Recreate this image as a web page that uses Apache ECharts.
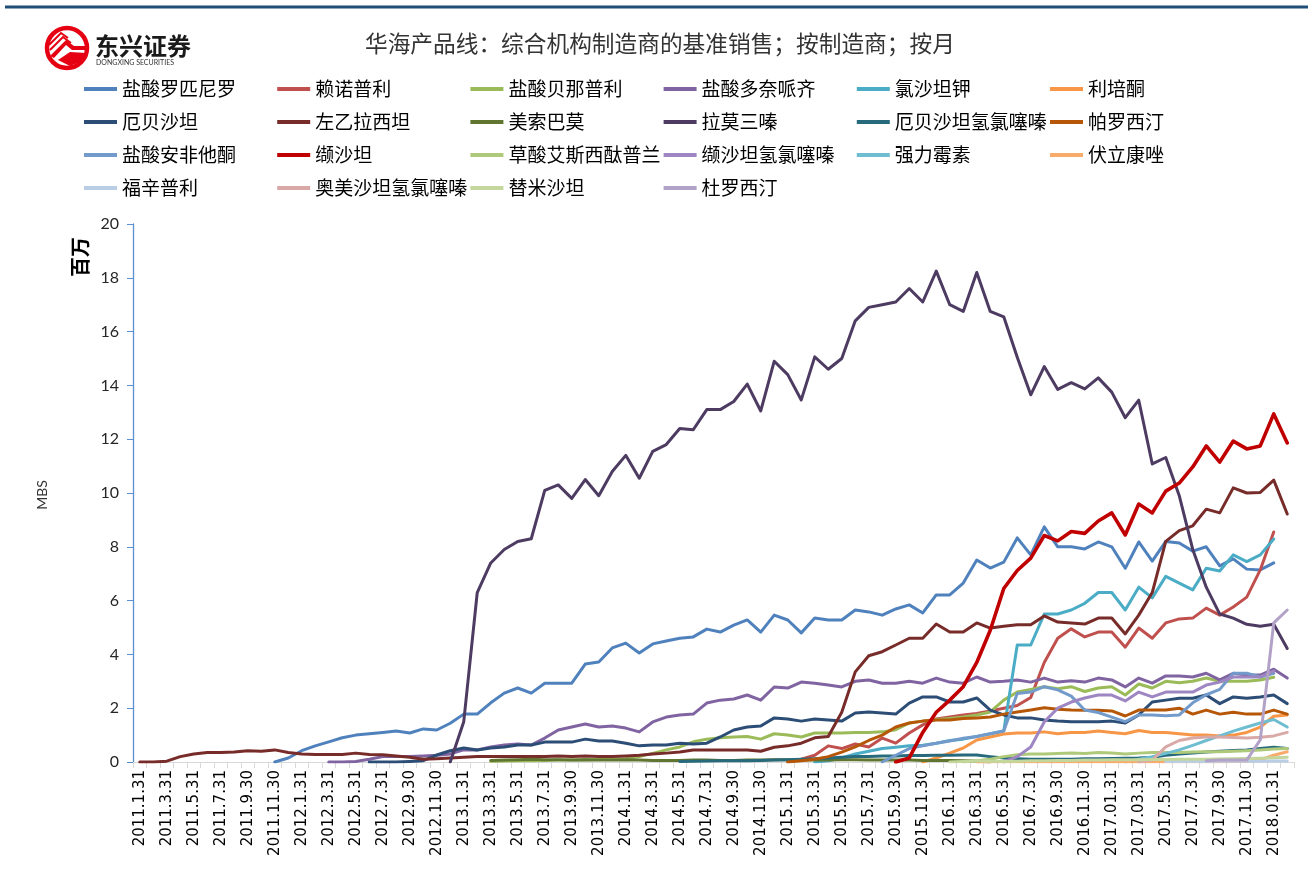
<!DOCTYPE html>
<html>
<head>
<meta charset="utf-8">
<script src="https://cdn.jsdelivr.net/npm/echarts/dist/echarts.min.js"></script>
<style>
html,body{margin:0;padding:0;background:#fff;}
#chart{width:1308px;height:878px;}
</style>
</head>
<body>
<div id="chart"></div>
<script>
const _ = null;

const categories = [
"2011.1.31","2011.2.28","2011.3.31","2011.4.30","2011.5.31","2011.6.30","2011.7.31","2011.8.31","2011.9.30","2011.10.31","2011.11.30","2011.12.31",
"2012.1.31","2012.2.29","2012.3.31","2012.4.30","2012.5.31","2012.6.30","2012.7.31","2012.8.31","2012.9.30","2012.10.31","2012.11.30","2012.12.31",
"2013.1.31","2013.2.28","2013.3.31","2013.4.30","2013.5.31","2013.6.30","2013.7.31","2013.8.31","2013.9.30","2013.10.31","2013.11.30","2013.12.31",
"2014.1.31","2014.2.28","2014.3.31","2014.4.30","2014.5.31","2014.6.30","2014.7.31","2014.8.31","2014.9.30","2014.10.31","2014.11.30","2014.12.31",
"2015.1.31","2015.2.28","2015.3.31","2015.4.30","2015.5.31","2015.6.30","2015.7.31","2015.8.31","2015.9.30","2015.10.31","2015.11.30","2015.12.31",
"2016.1.31","2016.2.29","2016.3.31","2016.4.30","2016.5.31","2016.6.30","2016.7.31","2016.8.31","2016.9.30","2016.10.31","2016.11.30","2016.12.31",
"2017.01.31","2017.02.28","2017.03.31","2017.4.30","2017.5.31","2017.6.30","2017.7.31","2017.8.31","2017.9.30","2017.10.31","2017.11.30","2017.12.31",
"2018.01.31","2018.02.28"
];

const yTicks = [0,2,4,6,8,10,12,14,16,18,20];

const seriesNames = ["盐酸罗匹尼罗","赖诺普利","盐酸贝那普利","盐酸多奈哌齐","氯沙坦钾","利培酮",
"厄贝沙坦","左乙拉西坦","美索巴莫","拉莫三嗪","厄贝沙坦氢氯噻嗪","帕罗西汀",
"盐酸安非他酮","缬沙坦","草酸艾斯西酞普兰","缬沙坦氢氯噻嗪","强力霉素","伏立康唑",
"福辛普利","奥美沙坦氢氯噻嗪","替米沙坦","杜罗西汀"];

const seriesColors = ["#4F81BD","#C0504D","#9BBB59","#8064A2","#4BACC6","#F79646",
"#2C4D75","#772C2A","#5F7530","#4D3B62","#276A7C","#B65708",
"#729ACA","#C00000","#AFC97A","#9E86C3","#6FBDD1","#F9AB6B",
"#B9CDE5","#D9A9A8","#C3D69B","#B3A2C7"];

const ropinirole = [
_,_,_,_,_,_,_,_,_,_,0,0.15,
0.42,0.6,0.75,0.9,1.0,1.05,1.1,1.15,1.08,1.23,1.19,1.44,
1.78,1.78,2.2,2.56,2.75,2.56,2.93,2.93,2.93,3.64,3.72,4.24,
4.42,4.05,4.39,4.5,4.6,4.65,4.94,4.83,5.09,5.28,4.83,5.46,
5.28,4.8,5.35,5.28,5.28,5.65,5.58,5.46,5.69,5.84,5.54,6.21,
6.21,6.65,7.51,7.21,7.43,8.33,7.7,8.74,8.0,8.0,7.92,8.18,
8.0,7.2,8.18,7.47,8.2,8.14,7.84,8.0,7.29,7.55,7.17,7.14,
7.4,_];

const lisinopril = [
_,_,_,_,_,_,_,_,_,_,_,_,
_,_,_,_,_,_,_,_,_,_,_,_,
_,_,_,_,_,_,_,_,_,_,_,_,
_,_,_,_,_,_,_,_,_,_,_,_,
0.02,0.1,0.25,0.6,0.5,0.67,0.56,0.89,0.7,1.08,1.38,1.6,
1.67,1.75,1.8,1.9,2.0,2.1,2.4,3.7,4.6,4.95,4.65,4.83,
4.83,4.27,4.98,4.6,5.17,5.32,5.35,5.72,5.46,5.76,6.13,7.14,
8.55,_];

const benazepril = [
_,_,_,_,_,_,_,_,_,_,_,_,
_,_,_,_,_,_,_,_,_,_,_,_,
_,_,0.03,0.04,0.05,0.05,0.06,0.07,0.07,0.08,0.09,0.1,
0.12,0.2,0.32,0.45,0.56,0.75,0.85,0.9,0.93,0.95,0.85,1.05,
1.0,0.93,1.08,1.08,1.08,1.1,1.1,1.12,1.2,1.45,1.52,1.58,
1.62,1.67,1.75,1.86,2.3,2.6,2.7,2.8,2.72,2.8,2.62,2.75,
2.8,2.49,2.9,2.75,3.0,2.95,3.0,3.12,3.0,3.0,3.0,3.05,
3.15,_];

const donepezil = [
_,_,_,_,_,_,_,_,_,_,_,_,
_,_,0,0,0.02,0.1,0.2,0.2,0.2,0.22,0.25,0.3,
0.45,0.45,0.56,0.63,0.67,0.63,0.89,1.19,1.3,1.41,1.3,1.34,
1.26,1.12,1.49,1.67,1.75,1.78,2.19,2.3,2.34,2.49,2.3,2.79,
2.75,2.97,2.93,2.86,2.79,3.0,3.05,2.93,2.93,3.0,2.93,3.12,
2.97,2.93,3.16,2.97,3.0,3.05,2.97,3.12,2.97,3.02,2.97,3.12,
3.05,2.79,3.12,2.93,3.2,3.2,3.16,3.3,3.05,3.3,3.23,3.23,
3.45,3.12];

const losartan = [
_,_,_,_,_,_,_,_,_,_,_,_,
_,_,_,_,_,_,_,_,_,_,_,_,
_,_,_,_,_,_,_,_,_,_,_,_,
_,_,_,_,_,_,_,_,_,_,_,_,
_,_,0,0.05,0.15,0.3,0.4,0.5,0.55,0.6,0.62,0.7,
0.8,0.85,0.95,1.05,1.15,4.35,4.35,5.5,5.5,5.65,5.9,6.3,
6.3,5.65,6.5,6.1,6.9,6.65,6.4,7.2,7.1,7.7,7.45,7.7,
8.29,_];

const risperidone = [
_,_,_,_,_,_,_,_,_,_,_,_,
_,_,_,_,_,_,_,_,_,_,_,_,
_,_,_,_,_,_,_,_,_,_,_,_,
_,_,_,_,_,_,_,_,_,_,_,_,
_,_,_,_,_,_,_,_,_,_,0,0.15,
0.33,0.52,0.82,0.93,1.04,1.08,1.08,1.12,1.05,1.1,1.1,1.15,
1.1,1.05,1.17,1.1,1.1,1.05,1.0,1.0,0.97,1.0,1.1,1.3,
1.7,1.75];

const irbesartan = [
_,_,_,_,_,_,_,_,_,_,_,_,
_,_,_,_,_,0,0,0,0.02,0.05,0.26,0.42,
0.52,0.45,0.52,0.56,0.63,0.63,0.74,0.74,0.74,0.85,0.78,0.78,
0.7,0.6,0.63,0.63,0.7,0.67,0.7,0.93,1.19,1.3,1.34,1.64,
1.6,1.52,1.6,1.56,1.52,1.82,1.86,1.82,1.78,2.19,2.42,2.42,
2.23,2.23,2.38,1.93,1.75,1.64,1.64,1.56,1.52,1.5,1.5,1.5,
1.52,1.45,1.75,2.23,2.3,2.37,2.37,2.49,2.17,2.42,2.37,2.42,
2.49,2.17];

const levetiracetam = [
0,0,0.03,0.2,0.3,0.35,0.35,0.37,0.42,0.4,0.45,0.35,
0.3,0.28,0.28,0.28,0.33,0.28,0.27,0.22,0.18,0.1,0.12,0.15,
0.18,0.2,0.2,0.2,0.2,0.2,0.2,0.22,0.2,0.22,0.2,0.2,
0.22,0.25,0.3,0.33,0.37,0.45,0.45,0.45,0.45,0.45,0.4,0.55,
0.6,0.7,0.9,0.95,1.85,3.35,3.95,4.1,4.35,4.6,4.6,5.13,
4.83,4.83,5.17,4.98,5.05,5.1,5.1,5.43,5.2,5.17,5.13,5.35,
5.35,4.76,5.46,6.3,8.2,8.6,8.78,9.4,9.26,10.19,10.0,10.02,
10.48,9.22];

const methocarbamol = [
_,_,_,_,_,_,_,_,_,_,_,_,
_,_,_,_,_,_,_,_,_,_,_,_,
_,_,0.06,0.07,0.08,0.1,0.08,0.08,0.07,0.08,0.07,0.07,
0.08,0.07,0.06,0.06,0.06,0.07,0.07,0.06,0.06,0.07,0.07,0.08,
0.08,0.07,0.07,0.07,0.08,0.08,0.07,0.07,0.07,0.07,0.06,0.06,
0.06,0.05,0.04,0,_,_,_,_,_,_,_,_,
_,_,_,_,_,_,_,_,_,_,_,_,
_,_];

const lamotrigine = [
_,_,_,_,_,_,_,_,_,_,_,_,
_,_,_,_,_,_,_,_,_,_,_,0,
1.5,6.3,7.4,7.9,8.2,8.3,10.1,10.3,9.8,10.5,9.9,10.8,
11.4,10.55,11.55,11.8,12.4,12.35,13.1,13.1,13.4,14.05,13.05,14.9,
14.4,13.46,15.06,14.6,15.0,16.4,16.9,17.0,17.1,17.6,17.1,18.25,
17.0,16.75,18.2,16.75,16.55,15.05,13.65,14.7,13.85,14.1,13.87,14.28,
13.75,12.8,13.45,11.08,11.32,9.9,7.9,6.5,5.5,5.35,5.12,5.05,
5.12,4.22];

const irbesartanHctz = [
_,_,_,_,_,_,_,_,_,_,_,_,
_,_,_,_,_,_,_,_,_,_,_,_,
_,_,_,_,_,_,_,_,_,_,_,_,
_,_,_,_,0.02,0.03,0.04,0.05,0.05,0.05,0.06,0.07,
0.08,0.1,0.12,0.15,0.18,0.2,0.2,0.22,0.22,0.24,0.24,0.25,
0.25,0.26,0.26,0.2,0.15,0.12,0.1,0.1,0.1,0.1,0.12,0.12,
0.13,0.14,0.15,0.18,0.25,0.3,0.33,0.37,0.4,0.43,0.45,0.5,
0.55,0.5];

const paroxetine = [
_,_,_,_,_,_,_,_,_,_,_,_,
_,_,_,_,_,_,_,_,_,_,_,_,
_,_,_,_,_,_,_,_,_,_,_,_,
_,_,_,_,_,_,_,_,_,_,_,_,
0,0.05,0.1,0.2,0.37,0.56,0.8,1.0,1.3,1.45,1.52,1.56,
1.56,1.62,1.64,1.67,1.78,1.86,1.93,2.02,1.96,1.93,1.92,1.92,
1.9,1.71,1.93,1.93,1.93,2.0,1.78,1.93,1.78,1.85,1.78,1.78,
1.93,1.78];

const bupropion = [
_,_,_,_,_,_,_,_,_,_,_,_,
_,_,_,_,_,_,_,_,_,_,_,_,
_,_,_,_,_,_,_,_,_,_,_,_,
_,_,_,_,_,_,_,_,_,_,_,_,
_,_,_,_,_,_,_,0,0.25,0.5,0.6,0.7,
0.78,0.88,0.95,1.05,1.15,2.55,2.6,2.8,2.68,2.45,1.93,1.84,
1.67,1.5,1.75,1.75,1.72,1.75,2.2,2.5,2.7,3.3,3.3,3.16,
3.3,_];

const valsartan = [
_,_,_,_,_,_,_,_,_,_,_,_,
_,_,_,_,_,_,_,_,_,_,_,_,
_,_,_,_,_,_,_,_,_,_,_,_,
_,_,_,_,_,_,_,_,_,_,_,_,
_,_,_,_,_,_,_,_,0,0.15,1.1,1.85,
2.3,2.8,3.7,4.9,6.45,7.12,7.58,8.42,8.22,8.57,8.5,8.96,
9.26,8.44,9.59,9.26,10.07,10.37,10.97,11.75,11.15,11.93,11.64,11.75,
12.94,11.86];

const escitalopram = [
_,_,_,_,_,_,_,_,_,_,_,_,
_,_,_,_,_,_,_,_,_,_,_,_,
_,_,_,_,_,_,_,_,_,_,_,_,
_,_,_,_,_,_,_,_,_,_,_,_,
_,_,_,_,_,_,_,_,_,_,_,_,
_,0,0.05,0.1,0.2,0.27,0.3,0.3,0.32,0.33,0.32,0.35,
0.33,0.3,0.33,0.35,0.35,0.35,0.37,0.38,0.38,0.4,0.42,0.45,
0.48,0.5];

const valsartanHctz = [
_,_,_,_,_,_,_,_,_,_,_,_,
_,_,_,_,_,_,_,_,_,_,_,_,
_,_,_,_,_,_,_,_,_,_,_,_,
_,_,_,_,_,_,_,_,_,_,_,_,
_,_,_,_,_,_,_,_,_,_,_,_,
_,_,_,_,0,0.2,0.56,1.49,2.0,2.23,2.38,2.49,
2.49,2.27,2.6,2.42,2.6,2.6,2.6,2.86,2.97,3.16,3.16,3.16,
3.38,_];

const doxycycline = [
_,_,_,_,_,_,_,_,_,_,_,_,
_,_,_,_,_,_,_,_,_,_,_,_,
_,_,_,_,_,_,_,_,_,_,_,_,
_,_,_,_,_,_,_,_,_,_,_,_,
_,_,_,_,_,_,_,_,_,_,_,_,
_,_,_,_,_,_,_,_,_,_,_,_,
_,0,0.1,0.2,0.32,0.45,0.62,0.8,0.97,1.15,1.3,1.45,
1.58,1.3];

const voriconazole = [
_,_,_,_,_,_,_,_,_,_,_,_,
_,_,_,_,_,_,_,_,_,_,_,_,
_,_,_,_,_,_,_,_,_,_,_,_,
_,_,_,_,_,_,_,_,_,_,_,_,
_,_,_,_,_,_,_,_,_,_,_,_,
_,_,0,0.01,0.01,0.01,0.01,0.01,0.01,0.01,0.01,0.01,
0.01,0.01,0.01,0.01,0.01,0.01,0.01,0.01,0.01,0.02,0.02,0.08,
0.25,0.38];

const fosinopril = [
_,_,_,_,_,_,_,_,_,_,_,_,
_,_,_,_,_,_,_,_,_,_,_,_,
_,_,_,_,_,_,_,_,_,_,_,_,
_,_,_,_,_,_,_,_,_,_,_,_,
_,_,_,_,_,_,_,_,_,_,_,_,
_,_,_,_,_,_,_,_,_,_,_,_,
_,_,_,_,0.02,0.02,0.02,0.02,0.03,0.03,0.03,0.03,
0.04,0.04];

const olmesartanHctz = [
_,_,_,_,_,_,_,_,_,_,_,_,
_,_,_,_,_,_,_,_,_,_,_,_,
_,_,_,_,_,_,_,_,_,_,_,_,
_,_,_,_,_,_,_,_,_,_,_,_,
_,_,_,_,_,_,_,_,_,_,_,_,
_,_,_,_,_,_,_,_,_,_,_,_,
_,_,0,0.07,0.56,0.8,0.89,0.93,0.93,0.91,0.89,0.92,
0.97,1.1];

const telmisartan = [
_,_,_,_,_,_,_,_,_,_,_,_,
_,_,_,_,_,_,_,_,_,_,_,_,
_,_,_,_,_,_,_,_,_,_,_,_,
_,_,_,_,_,_,_,_,_,_,_,_,
_,_,_,_,_,_,_,_,_,_,_,_,
0,0.02,0.05,0.03,0.02,0.03,0.05,0.05,0.06,0.06,0.07,0.07,
0.08,0.08,0.08,0.09,0.09,0.1,0.1,0.1,0.11,0.12,0.13,0.14,
0.16,0.18];

const duloxetine = [
_,_,_,_,_,_,_,_,_,_,_,_,
_,_,_,_,_,_,_,_,_,_,_,_,
_,_,_,_,_,_,_,_,_,_,_,_,
_,_,_,_,_,_,_,_,_,_,_,_,
_,_,_,_,_,_,_,_,_,_,_,_,
_,_,_,_,_,_,_,_,_,_,_,_,
_,_,_,_,_,_,_,0.05,0.07,0.07,0.07,0.82,
5.17,5.65];

const seriesData = [ropinirole, lisinopril, benazepril, donepezil, losartan, risperidone,
irbesartan, levetiracetam, methocarbamol, lamotrigine, irbesartanHctz, paroxetine,
bupropion, valsartan, escitalopram, valsartanHctz, doxycycline, voriconazole,
fosinopril, olmesartanHctz, telmisartan, duloxetine];

const chart = echarts.init(document.getElementById('chart'), null, {renderer: 'canvas'});

const cjk = '"Noto Sans CJK SC", "Noto Sans", sans-serif';

const option = {
  animation: false,
  backgroundColor: '#ffffff',
  title: {
    text: '华海产品线：综合机构制造商的基准销售；按制造商；按月',
    left: 365, top: 32, padding: 0,
    textStyle: {fontSize: 22.7, fontWeight: 'normal', color: '#333333', fontFamily: cjk}
  },
  legend: {
    data: seriesNames,
    left: 84, top: 74, width: 1175, padding: 0,
    icon: 'rect', itemWidth: 33, itemHeight: 4, itemGap: 3.2,
    selectedMode: false,
    textStyle: {fontSize: 19, color: '#000000', fontFamily: cjk, width: 152, lineHeight: 29.8, overflow: 'none'}
  },
  grid: {left: 133, right: 14, top: 224, bottom: 116, containLabel: false},
  xAxis: {
    type: 'category', data: categories, boundaryGap: true,
    axisLine: {show: true, lineStyle: {color: '#D9D9D9', width: 1}},
    axisTick: {show: true, interval: 0, length: 6, lineStyle: {color: '#D9D9D9'}},
    axisLabel: {interval: 1, rotate: 90, fontSize: 15, color: '#000000', fontFamily: '"DejaVu Sans", sans-serif', margin: 8},
    splitLine: {show: false}
  },
  yAxis: {
    type: 'value', min: yTicks[0], max: yTicks[yTicks.length - 1], interval: 2,
    axisLine: {show: true, lineStyle: {color: '#5B8FCF', width: 1.3}},
    axisTick: {show: true, length: 6, lineStyle: {color: '#5B8FCF'}},
    axisLabel: {fontSize: 16, color: '#262626', fontFamily: 'Lato, sans-serif', margin: 14},
    splitLine: {show: false}
  },
  graphic: [
    {type: 'rect', shape: {x: 5, y: 5.5, width: 1303, height: 3}, style: {fill: '#1F4E79'}, silent: true},
    {type: 'circle', shape: {cx: 67, cy: 48, r: 20}, style: {fill: '#ffffff', stroke: '#E50012', lineWidth: 4.5}, silent: true},
    {type: 'polygon', shape: {points: [[50,56],[66,40],[74,46],[86,46],[86,50],[72,50],[66,45],[54,58]]}, style: {fill: '#E50012'}, silent: true},
    {type: 'polyline', shape: {points: [[50,50],[63,37],[71,43]]}, style: {stroke: '#E50012', lineWidth: 2, fill: null}, silent: true},
    {type: 'polyline', shape: {points: [[49,45],[61,33],[68,38]]}, style: {stroke: '#E50012', lineWidth: 2, fill: null}, silent: true},
    {type: 'polygon', shape: {points: [[58,60],[70,52],[86,53],[80,62],[70,66]]}, style: {fill: '#E50012'}, silent: true},
    {type: 'text', x: 95, y: 46, style: {text: '东兴证券', fontSize: 24, fontWeight: 'bold', fill: '#1a1a1a', fontFamily: cjk, verticalAlign: 'middle'}, silent: true},
    {type: 'text', x: 96, y: 63, style: {text: 'DONGXING SECURITIES', fontSize: 7, fill: '#333333', fontFamily: 'Lato, sans-serif', verticalAlign: 'middle'}, silent: true},
    {type: 'text', x: 80, y: 257, rotation: Math.PI / 2, style: {text: '百万', fontSize: 20, fontWeight: 'bold', fill: '#000000', fontFamily: cjk, align: 'center', verticalAlign: 'middle'}, silent: true},
    {type: 'text', x: 42, y: 495, rotation: Math.PI / 2, style: {text: 'MBS', fontSize: 14, fill: '#333333', fontFamily: 'Lato, sans-serif', align: 'center', verticalAlign: 'middle'}, silent: true}
  ],
  series: seriesNames.map((n, i) => ({
    name: n, type: 'line', data: seriesData[i],
    symbol: 'none', showSymbol: false, smooth: false, connectNulls: false,
    lineStyle: {width: n === '缬沙坦' ? 3.6 : 3, color: seriesColors[i], cap: 'round', join: 'round'},
    itemStyle: {color: seriesColors[i]},
    emphasis: {disabled: true}
  }))
};
chart.setOption(option);
</script>
</body>
</html>
